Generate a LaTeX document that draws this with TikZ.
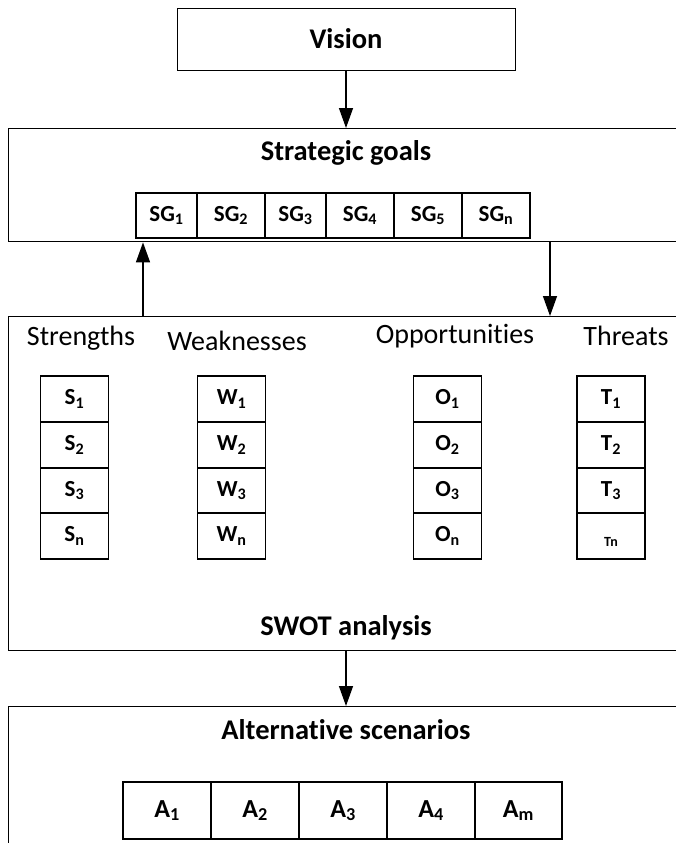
\documentclass[tikz,border=0pt]{standalone}
\usepackage{fontspec}
\setmainfont{Carlito}[Ligatures=NoCommon]
\usetikzlibrary{arrows.meta}
\tikzset{
  frame/.style={draw=black, line width=1.4pt, inner sep=0pt, anchor=north west},
  cell/.style={draw=black, line width=1.4pt, inner sep=0pt, font=\bfseries\fontsize{23}{27}\selectfont},
  title/.style={font=\bfseries\fontsize{28.5}{33}\selectfont, inner sep=0pt},
  colhead/.style={font=\fontsize{28}{32}\selectfont, inner sep=0pt},
  arr/.style={line width=1.4pt, -{Triangle[width=14pt,length=20pt]}}
}
\newcommand{\sub}[2]{#1\textsubscript{#2}}
\begin{document}
\begin{tikzpicture}[x=1pt,y=-1pt]
\useasboundingbox (0,0) rectangle (676,843);
% Vision
\node[frame, minimum width=338pt, minimum height=62pt] (vision) at (177,8) {};
\node[title] (visiont) at (346,39) {Vision};
% Strategic goals
\node[frame, minimum width=700pt, minimum height=113pt] (sgbox) at (8,128) {};
\node[title] (sgt) at (346,153) {Strategic goals};
\foreach \l/\r/\t [count=\i] in {136/197/\sub{SG}{1},197/265/\sub{SG}{2},265/326/\sub{SG}{3},326/394/\sub{SG}{4},394/462/\sub{SG}{5},462/530/\sub{SG}{n}}{
  \pgfmathsetmacro{\w}{\r-\l}
  \node[cell, minimum width=\w pt, minimum height=45pt] (sg\i) at ({(\l+\r)/2},215.5) {\t};
}
% SWOT
\node[frame, minimum width=700pt, minimum height=334pt] (swot) at (8,316) {};
\node[colhead] (hs) at (81,338) {Strengths};
\node[colhead] (hw) at (237,341) {Weaknesses};
\node[colhead] (ho) at (455,336) {Opportunities};
\node[colhead] (ht) at (626,336) {Threats};
\foreach \cx/\L in {74.5/S,231.5/W,447.5/O}{
  \foreach \y/\k [count=\j] in {399/1,445/2,490.5/3,536/n}{
    \node[cell, minimum width=68pt, minimum height=46pt] (\L\j) at (\cx,\y) {\sub{\L}{\k}};
  }
}
\foreach \y/\k [count=\j] in {399/1,445/2,490.5/3}{
  \node[cell, minimum width=68pt, minimum height=46pt] (T\j) at (611,\y) {\sub{T}{\k}};
}
\node[cell, minimum width=68pt, minimum height=46pt] (T4) at (611,536) {};
\node[inner sep=0pt, font=\bfseries\fontsize{14}{16}\selectfont] (T4t) at (611,542) {Tn};
\node[title] (swott) at (346,628) {SWOT analysis};
% Alternative scenarios
\node[frame, minimum width=700pt, minimum height=250pt] (alt) at (8,706) {};
\node[title] (altt) at (346,730) {Alternative scenarios};
\foreach \l/\r/\t [count=\i] in {123/211/\sub{A}{1},211/299/\sub{A}{2},299/387/\sub{A}{3},387/475/\sub{A}{4},475/562/\sub{A}{m}}{
  \pgfmathsetmacro{\w}{\r-\l}
  \node[cell, minimum width=\w pt, minimum height=57pt, font=\bfseries\fontsize{26}{30}\selectfont] (a\i) at ({(\l+\r)/2},810.5) {\t};
}
% connectors
\coordinate (upx) at (143,0);
\coordinate (dnx) at (550,0);
\draw[arr] (vision.south -| visiont) -- (sgbox.north -| visiont);
\draw[arr] (upx |- swot.north) -- (upx |- sgbox.south);
\draw[arr] (dnx |- sgbox.south) -- (dnx |- swot.north);
\draw[arr] (swot.south -| swott) -- (alt.north -| swott);
\end{tikzpicture}
\end{document}
